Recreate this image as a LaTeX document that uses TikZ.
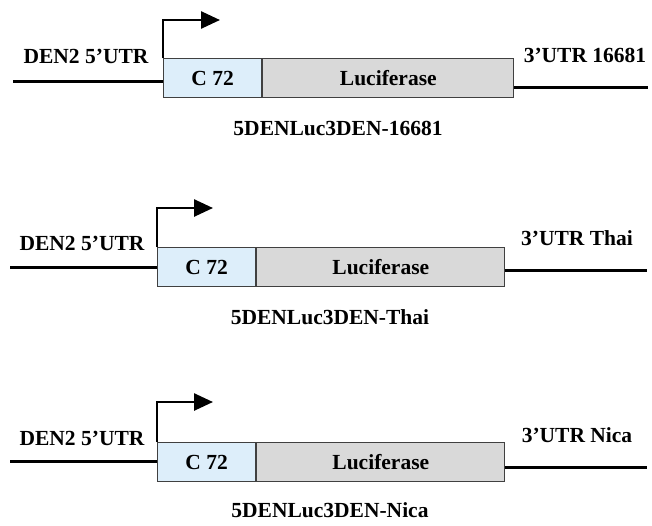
\documentclass[tikz,border=0pt]{standalone}
\usepackage{fontspec}
\setmainfont{Liberation Serif}
\usetikzlibrary{arrows.meta}
\definecolor{capsid}{HTML}{DDEEFA}
\definecolor{lucgray}{HTML}{D9D9D9}
\definecolor{edgegray}{HTML}{404040}

\begin{document}
\begin{tikzpicture}[x=1pt,y=-1pt,
  font=\fontsize{21.5}{24}\selectfont\bfseries,
  gene/.style={draw=edgegray,line width=1.2pt,inner sep=0pt,anchor=north west},
  cbox/.style={gene,fill=capsid,minimum width=98pt},
  lucbox/.style={gene,fill=lucgray,minimum width=248pt},
  dna/.style={line width=3pt},
  prom/.style={line width=2.6pt,-{Triangle[length=19pt,width=17pt]}}]
\useasboundingbox (0,0) rectangle (652,525);

% Construct 1: 3'UTR 16681
\node[cbox,minimum height=39pt] (c1) at (163,58) {C 72};
\node[lucbox,minimum height=39pt,minimum width=251pt] (l1) at (c1.north east) {Luciferase};
\coordinate (a1) at (13,81);
\coordinate (b1) at (648,87);
\draw[dna] (a1) -- (a1 -| c1.west);
\draw[dna] (l1.east |- b1) -- (b1);
\coordinate (p1) at (220,20);
\draw[prom] (c1.north west) |- (p1);
\node (u5a) at (86,56) {DEN2 5’UTR};
\node (u3a) at (585,55) {3’UTR 16681};
\node (n1) at (338,128) {5DENLuc3DEN-16681};

% Construct 2: 3'UTR Thai
\node[cbox,minimum height=39pt] (c2) at (157,247) {C 72};
\node[lucbox,minimum height=39pt] (l2) at (c2.north east) {Luciferase};
\coordinate (a2) at (10,267);
\coordinate (b2) at (647,270);
\draw[dna] (a2) -- (a2 -| c2.west);
\draw[dna] (l2.east |- b2) -- (b2);
\coordinate (p2) at (213,208);
\draw[prom] (c2.north west) |- (p2);
\node (u5b) at (82,243) {DEN2 5’UTR};
\node (u3b) at (577,238) {3’UTR Thai};
\node (n2) at (330,317) {5DENLuc3DEN-Thai};

% Construct 3: 3'UTR Nica
\node[cbox,minimum height=39pt] (c3) at (157,442) {C 72};
\node[lucbox,minimum height=39pt] (l3) at (c3.north east) {Luciferase};
\coordinate (a3) at (10,461);
\coordinate (b3) at (647,467);
\draw[dna] (a3) -- (a3 -| c3.west);
\draw[dna] (l3.east |- b3) -- (b3);
\coordinate (p3) at (213,402);
\draw[prom] (c3.north west) |- (p3);
\node (u5c) at (82,438) {DEN2 5’UTR};
\node (u3c) at (577,435) {3’UTR Nica};
\node (n3) at (330,510) {5DENLuc3DEN-Nica};
\end{tikzpicture}
\end{document}
